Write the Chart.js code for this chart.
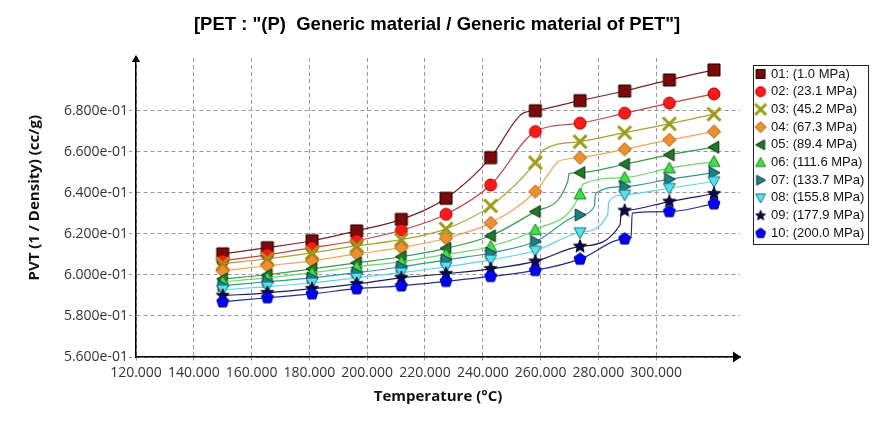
<!DOCTYPE html>
<html><head><meta charset="utf-8">
<script src="https://cdn.jsdelivr.net/npm/chart.js@4.4.1/dist/chart.umd.min.js"></script>
<style>html,body{margin:0;padding:0;background:#fff;}#wrap{width:875px;height:428px;}</style>
</head><body><div id="wrap"><canvas id="c" width="875" height="428"></canvas></div>
<script>
// ---------- text ----------
const titleText = '[PET : "(P)  Generic material / Generic material of PET"]';
const xTitle = 'Temperature (°C)';
const yTitle = '     PVT (1 / Density) (cc/g)';
const seriesLabels = ['01: (1.0 MPa)','02: (23.1 MPa)','03: (45.2 MPa)','04: (67.3 MPa)','05: (89.4 MPa)',
  '06: (111.6 MPa)','07: (133.7 MPa)','08: (155.8 MPa)','09: (177.9 MPa)','10: (200.0 MPa)'];

// ---------- axes ----------
const xMin = 120, xMax = 329;
const yMin = 0.56, yMax = 0.7058;
const xTicks = [120,140,160,180,200,220,240,260,280,300];
const yTicks = [0.56,0.58,0.60,0.62,0.64,0.66,0.68];

// ---------- data (marker temperatures) ----------
const temperatures = [150, 165.45, 180.91, 196.36, 211.82, 227.27, 242.73, 258.18, 273.64, 289.09, 304.55, 320];

const s01 = [0.6103,0.6133,0.6167,0.6215,0.6271,0.6374,0.6572,0.6801,0.6850,0.6897,0.6951,0.7000];
const s02 = [0.6069,0.6098,0.6133,0.6167,0.6218,0.6296,0.6439,0.6699,0.6740,0.6789,0.6838,0.6883];
const s03 = [0.6055,0.6079,0.6108,0.6142,0.6172,0.6225,0.6337,0.6548,0.6650,0.6694,0.6737,0.6784];
const s04 = [0.6020,0.6045,0.6069,0.6103,0.6133,0.6179,0.6254,0.6407,0.6572,0.6613,0.6659,0.6699];
const s05 = [0.5981,0.6001,0.6030,0.6059,0.6089,0.6130,0.6191,0.6309,0.6499,0.6540,0.6586,0.6623];
const s06 = [0.5967,0.5986,0.6011,0.6040,0.6064,0.6100,0.6139,0.6220,0.6394,0.6475,0.6521,0.6553];
const s07 = [0.5947,0.5967,0.5986,0.6011,0.6040,0.6074,0.6107,0.6163,0.6293,0.6431,0.6467,0.6499];
const s08 = [0.5928,0.5943,0.5962,0.5986,0.6011,0.6040,0.6074,0.6118,0.6207,0.6391,0.6423,0.6456];
const s09 = [0.5899,0.5913,0.5933,0.5957,0.5986,0.6006,0.6030,0.6066,0.6139,0.6314,0.6358,0.6396];
const s10 = [0.5869,0.5889,0.5908,0.5933,0.5947,0.5969,0.5993,0.6022,0.6077,0.6176,0.6309,0.6347];

// transition (kink) points of each curve (no marker drawn)
const k01T = [253.5],        k01V = [0.6785];
const k02T = [],             k02V = [];
const k03T = [261.0],        k03V = [0.6610];
const k04T = [265.0, 266.0], k04V = [0.6537, 0.6553];
const k05T = [269.4, 269.8], k05V = [0.6456, 0.6493];
const k06T = [274.6],        k06V = [0.6443];
const k07T = [278.6, 279.0], k07V = [0.6334, 0.6399];
const k08T = [283.2, 283.6], k08V = [0.6293, 0.6358];
const k09T = [287.5, 287.9], k09V = [0.6245, 0.6308];
const k10T = [291.3, 291.7], k10V = [0.6180, 0.6302];

const seriesValues = [s01,s02,s03,s04,s05,s06,s07,s08,s09,s10];
const kinkTs = [k01T,k02T,k03T,k04T,k05T,k06T,k07T,k08T,k09T,k10T];
const kinkVs = [k01V,k02V,k03V,k04V,k05V,k06V,k07V,k08V,k09V,k10V];

// ---------- styles ----------
const styles = [
  {shape:'square',  fill:'#7d0a0a', stroke:'#1a0000', line:'#7a1f1f', s:12, ls:9},
  {shape:'circle',  fill:'#ff1a1a', stroke:'#a00000', line:'#b84a4a', s:12, ls:10},
  {shape:'x',       fill:'#9c9a14', stroke:'#9c9a14', line:'#a8a030', s:13, ls:11},
  {shape:'diamond', fill:'#f0902c', stroke:'#9a5a14', line:'#f2a458', s:12, ls:10},
  {shape:'triL',    fill:'#1f7a2a', stroke:'#0a300a', line:'#3a9a46', s:12, ls:10},
  {shape:'triU',    fill:'#3ee04c', stroke:'#1a7a1a', line:'#6cd66c', s:12, ls:10},
  {shape:'triR',    fill:'#1e8080', stroke:'#0a3a3a', line:'#2e9898', s:12, ls:10},
  {shape:'triD',    fill:'#52e2f0', stroke:'#1a7080', line:'#5cd4e4', s:12, ls:10},
  {shape:'star',    fill:'#0a0a4a', stroke:'#000020', line:'#1c1c60', s:13, ls:10},
  {shape:'pentagon',fill:'#0000ff', stroke:'#00006a', line:'#2a2a96', s:12, ls:10}
];

function makeIcon(shape, fill, stroke, s, cw, ch, cx) {
  const c = document.createElement('canvas'); c.width = cw; c.height = ch;
  const g = c.getContext('2d');
  const cy = ch / 2, r = s / 2;
  g.fillStyle = fill; g.strokeStyle = stroke; g.lineWidth = 1;
  g.beginPath();
  const poly = pts => { pts.forEach((p, i) => i ? g.lineTo(cx + p[0], cy + p[1]) : g.moveTo(cx + p[0], cy + p[1])); g.closePath(); };
  switch (shape) {
    case 'square': g.rect(cx - r, cy - r, s, s); break;
    case 'circle': g.arc(cx, cy, r, 0, Math.PI * 2); break;
    case 'diamond': poly([[0,-r*1.1],[r*1.1,0],[0,r*1.1],[-r*1.1,0]]); break;
    case 'triU': poly([[0,-r],[r,r*0.8],[-r,r*0.8]]); break;
    case 'triD': poly([[0,r],[r,-r*0.8],[-r,-r*0.8]]); break;
    case 'triL': poly([[-r,0],[r*0.8,-r],[r*0.8,r]]); break;
    case 'triR': poly([[r,0],[-r*0.8,-r],[-r*0.8,r]]); break;
    case 'star': { const p = []; for (let k = 0; k < 10; k++) { const a = -Math.PI/2 + k*Math.PI/5; const rr = k % 2 ? r*0.45 : r*1.05; p.push([rr*Math.cos(a), rr*Math.sin(a)]); } poly(p); break; }
    case 'pentagon': { const p = []; for (let k = 0; k < 5; k++) { const a = -Math.PI/2 + k*2*Math.PI/5; p.push([r*1.05*Math.cos(a), r*1.05*Math.sin(a)]); } poly(p); break; }
    case 'x':
      g.lineWidth = 3; g.moveTo(cx - r, cy - r); g.lineTo(cx + r, cy + r); g.moveTo(cx + r, cy - r); g.lineTo(cx - r, cy + r); g.stroke();
      return c;
  }
  g.fill(); g.stroke();
  return c;
}

const pointIcons = styles.map(st => makeIcon(st.shape, st.fill, st.stroke, st.s, 16, 16, 8));
const legendIcons = styles.map(st => makeIcon(st.shape, st.fill, st.stroke, st.ls, 28, 14, 20));

function buildPoints(values, kT, kV) {
  const pts = temperatures.map((t, i) => ({x: t, y: values[i], m: true}));
  kT.forEach((t, i) => pts.push({x: t, y: kV[i], m: false}));
  pts.sort((a, b) => a.x - b.x);
  return pts;
}

function fmtExp(v) {
  return Number(v).toExponential(3).replace(/e([+-])(\d)$/, 'e$10$2');
}

const arrowsAndFrame = {
  id: 'arrowsAndFrame',
  afterDraw(chart) {
    const ctx = chart.ctx;
    const {left, right, top, bottom} = chart.chartArea;
    ctx.save();
    ctx.fillStyle = '#000';
    ctx.beginPath();
    ctx.moveTo(left, top - 3); ctx.lineTo(left - 4.2, top + 4); ctx.lineTo(left + 4.2, top + 4); ctx.closePath(); ctx.fill();
    ctx.beginPath();
    ctx.moveTo(right + 1, bottom); ctx.lineTo(right - 7, bottom - 5.5); ctx.lineTo(right - 7, bottom + 5.5); ctx.closePath(); ctx.fill();
    // legend frame
    const hb = chart.legend && chart.legend.legendHitBoxes;
    if (hb && hb.length) {
      let x1 = Infinity, x2 = -Infinity, y1 = Infinity, y2 = -Infinity;
      hb.forEach(h => { x1 = Math.min(x1, h.left); x2 = Math.max(x2, h.left + h.width); y1 = Math.min(y1, h.top); y2 = Math.max(y2, h.top + h.height); });
      ctx.strokeStyle = '#222'; ctx.lineWidth = 1;
      ctx.strokeRect(Math.round(x1 + 8) + 0.5, Math.round(y1 - 3) + 0.5, Math.round(x2 - x1 - 5), Math.round(y2 - y1 + 7));
    }
    ctx.restore();
  }
};

function init() {
  const datasets = seriesLabels.map((lab, i) => ({
    label: lab,
    data: buildPoints(seriesValues[i], kinkTs[i], kinkVs[i]),
    borderColor: styles[i].line,
    backgroundColor: styles[i].fill,
    borderWidth: 1.2,
    cubicInterpolationMode: 'monotone',
    pointStyle: pointIcons[i],
    pointRadius: c => (c.raw && c.raw.m) ? 6 : 0,
    pointHoverRadius: c => (c.raw && c.raw.m) ? 6 : 0,
    order: 10 - i,
    fill: false
  }));

  const config = {
    type: 'line',
    data: {datasets},
    plugins: [arrowsAndFrame],
    options: {
      responsive: false,
      animation: false,
      events: [],
      layout: {padding: {left: 0, right: 0, top: 0, bottom: 1}},
      plugins: {
        tooltip: {enabled: false},
        title: {
          display: true, text: titleText, color: '#000',
          font: {family: '"Liberation Sans", Arial, sans-serif', size: 18.5, weight: 'bold', lineHeight: 1.2},
          padding: {top: 13.9, bottom: 21.9}
        },
        legend: {
          display: true, position: 'right', align: 'start', fullSize: false,
          title: {display: true, text: ' ', font: {size: 1}, padding: {top: 0, bottom: 3.6}},
          labels: {
            usePointStyle: true, pointStyleWidth: 19.8, padding: 4.7, color: '#111',
            font: {family: '"Liberation Sans", Arial, sans-serif', size: 13},
            generateLabels: chart => chart.data.datasets.map((ds, i) => ({
              text: ds.label, pointStyle: legendIcons[i], fillStyle: styles[i].fill,
              strokeStyle: styles[i].stroke, lineWidth: 1, hidden: false, datasetIndex: i, fontColor: '#111'
            }))
          }
        }
      },
      scales: {
        x: {
          type: 'linear', min: xMin, max: xMax,
          afterBuildTicks: s => { s.ticks = xTicks.map(v => ({value: v})); },
          afterFit: s => { s.height = 70; },
          ticks: {callback: v => Number(v).toFixed(3), color: '#333', padding: 1, maxRotation: 0, autoSkip: false,
                  font: {family: '"Open Sans", sans-serif', size: 14}},
          grid: {color: '#9a9a9a', lineWidth: 1, tickLength: 7, tickColor: '#9a9a9a', tickBorderDash: [3, 3]},
          border: {display: true, color: '#000', width: 1.5, dash: [4, 3]},
          title: {display: true, text: xTitle, color: '#111', padding: {top: 0, bottom: 21.3},
                  font: {family: '"Open Sans", sans-serif', size: 15, weight: 'bold'}}
        },
        y: {
          type: 'linear', min: yMin, max: yMax,
          afterBuildTicks: s => { s.ticks = yTicks.map(v => ({value: v})); },
          afterFit: s => { s.width = 136; },
          ticks: {callback: v => fmtExp(v), color: '#333', padding: 1,
                  font: {family: '"Open Sans", sans-serif', size: 14}},
          grid: {color: '#9a9a9a', lineWidth: 1, tickLength: 7, tickColor: '#9a9a9a', tickBorderDash: [3, 3]},
          border: {display: true, color: '#000', width: 1.5, dash: [4, 3]},
          title: {display: true, text: yTitle, color: '#111', padding: {top: 26, bottom: 0},
                  font: {family: '"Open Sans", sans-serif', size: 15, weight: 'bold'}}
        }
      }
    }
  };

  const chart = new Chart(document.getElementById('c'), config);
  const dr = chart.chartArea.right - 740;
  if (Math.abs(dr) > 0.2) {
    chart.options.layout.padding = {left: 0, right: dr, top: 0, bottom: 1};
    chart.update('none');
  }
}

const fontLoads = ['14px "Open Sans"', 'bold 15px "Open Sans"', 'bold 18px "Liberation Sans"', '13px "Liberation Sans"']
  .map(f => document.fonts.load(f).catch(() => null));
Promise.all(fontLoads).then(init, init);
</script>
</body></html>
